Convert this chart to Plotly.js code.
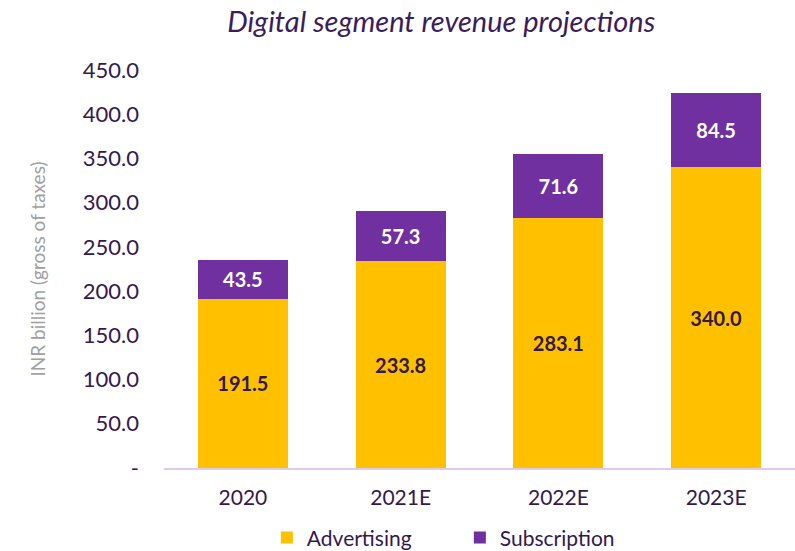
<!DOCTYPE html>
<html>
<head>
<meta charset="utf-8">
<script src="https://cdn.plot.ly/plotly-3.0.1.min.js"></script>
<style>html,body{margin:0;padding:0;background:#fff;}#chart{width:795px;height:551px;}</style>
</head>
<body>
<div id="chart"></div>
<script>
const years = ["2020", "2021E", "2022E", "2023E"];
const advertising = [191.5, 233.8, 283.1, 340.0];
const subscription = [43.5, 57.3, 71.6, 84.5];
const yTickVals = [0, 50, 100, 150, 200, 250, 300, 350, 400, 450];
const yTickText = ["-", "50.0", "100.0", "150.0", "200.0", "250.0", "300.0", "350.0", "400.0", "450.0"];

const FONT = "Lato, 'Open Sans', sans-serif";
const DARK = "#33194f";

const traces = [
  {
    type: "bar", name: "Advertising", x: years, y: advertising,
    marker: {color: "#FFC000"},
    text: advertising.map(v => v.toFixed(1)), textposition: "inside",
    insidetextanchor: "middle",
    textfont: {family: FONT, size: 20, color: DARK, weight: 700},
    hoverinfo: "none"
  },
  {
    type: "bar", name: "Subscription", x: years, y: subscription,
    marker: {color: "#7030A0"},
    text: subscription.map(v => v.toFixed(1)), textposition: "inside",
    insidetextanchor: "middle",
    textfont: {family: FONT, size: 20, color: "#ffffff", weight: 700},
    hoverinfo: "none"
  }
];

const layout = {
  width: 795, height: 551,
  margin: {l: 164, r: 0, t: 70, b: 83},
  barmode: "stack",
  bargap: 0.43,
  paper_bgcolor: "#fff", plot_bgcolor: "#fff",
  font: {family: FONT, color: DARK, size: 18},
  title: {
    text: "<i>Digital segment revenue projections</i>",
    font: {family: FONT, size: 29, color: "#3a1d5c"},
    xref: "container", x: 0.555, xanchor: "center",
    yref: "container", y: 0.96, yanchor: "middle"
  },
  xaxis: {
    type: "category",
    showline: true, linecolor: "#dccbef", linewidth: 2,
    showgrid: false, zeroline: false, ticks: "",
    tickfont: {family: FONT, size: 21, color: DARK},
    ticklabelstandoff: 10
  },
  yaxis: {
    range: [0, 450], showgrid: false, zeroline: false, showline: false,
    tickvals: yTickVals, ticktext: yTickText, ticks: "",
    tickfont: {family: FONT, size: 22, color: DARK},
    ticklabelstandoff: 24,
    title: {text: "INR billion (gross of taxes)", font: {family: FONT, size: 19, color: "#a0a0a0"}, standoff: 32}
  },
  showlegend: true,
  legend: {
    orientation: "h", x: 0.163, xanchor: "left",
    yref: "container", y: 0.024, yanchor: "middle",
    font: {family: FONT, size: 21, color: DARK},
    traceorder: "normal", itemwidth: 30, entrywidth: 148
  }
};

Plotly.newPlot("chart", traces, layout, {displayModeBar: false, staticPlot: true});
</script>
</body>
</html>
